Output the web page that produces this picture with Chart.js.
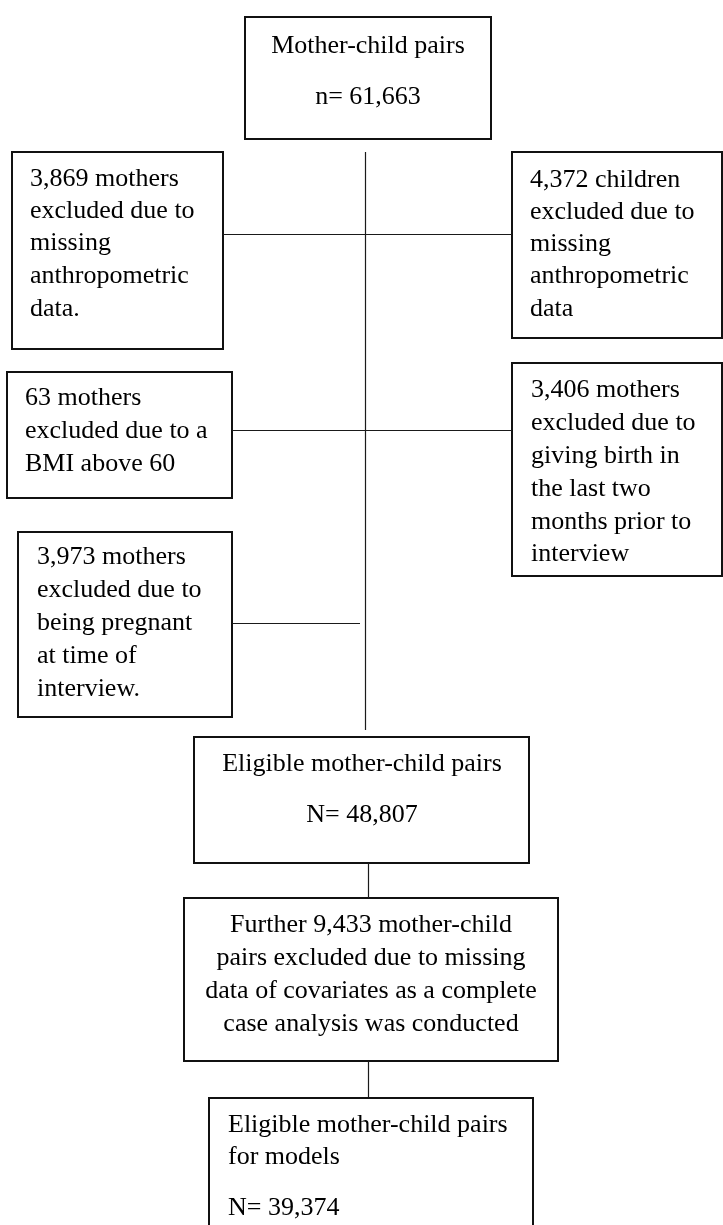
<!DOCTYPE html>
<html>
<head>
<meta charset="utf-8">
<script src="https://cdn.jsdelivr.net/npm/chart.js@4/dist/chart.umd.min.js"></script>
<style>
  html, body { margin: 0; padding: 0; background: #fff; }
  #wrap { width: 723px; height: 1225px; }
</style>
</head>
<body>
<div id="wrap"><canvas id="flow"></canvas></div>
<script>
// Node texts, one entry per box (line breaks as in the original)
const NODE_TEXT = [
  ['Mother-child pairs', 'n= 61,663'],
  ['3,869 mothers', 'excluded due to', 'missing', 'anthropometric', 'data.'],
  ['4,372 children', 'excluded due to', 'missing', 'anthropometric', 'data'],
  ['63 mothers', 'excluded due to a', 'BMI above 60'],
  ['3,406 mothers', 'excluded due to', 'giving birth in', 'the last two', 'months prior to', 'interview'],
  ['3,973 mothers', 'excluded due to', 'being pregnant', 'at time of', 'interview.'],
  ['Eligible mother-child pairs', 'N= 48,807'],
  ['Further 9,433 mother-child', 'pairs excluded due to missing', 'data of covariates as a complete', 'case analysis was conducted'],
  ['Eligible mother-child pairs', 'for models', 'N= 39,374'],
];

// Layout in diagram units (0..723 wide, 0..1225 tall): [left, top, right, bottom]
const BOX_RECT = [
  [245, 17, 491, 139],
  [12, 152, 223, 349],
  [512, 152, 722, 338],
  [7, 372, 232, 498],
  [512, 363, 722, 576],
  [18, 532, 232, 717],
  [194, 737, 529, 863],
  [184, 898, 558, 1061],
  [209, 1098, 533, 1260],
];

// Text anchor per box
const TEXT_X = [368, 30, 530, 25, 531, 37, 362, 371, 228];
const TEXT_ALIGN = ['center', 'left', 'left', 'left', 'left', 'left', 'center', 'center', 'left'];
const TEXT_BASELINES = [
  [53, 104],
  [186, 218, 250, 283, 316],
  [187, 219, 251, 283, 316],
  [405, 438, 471],
  [397, 430, 463, 496, 529, 561],
  [564, 597, 630, 663, 696],
  [771, 822],
  [932, 965, 998, 1031],
  [1132, 1164, 1215],
];

// Connector lines: [x1, y1, x2, y2]
const LINKS = [
  [365.5, 152, 365.5, 730],
  [223, 234.5, 512, 234.5],
  [232, 430.5, 512, 430.5],
  [232, 623.5, 360, 623.5],
  [368.5, 863, 368.5, 898],
  [368.5, 1061, 368.5, 1097],
];

const datasets = [];

LINKS.forEach(([x1, y1, x2, y2]) => {
  datasets.push({
    data: [{ x: x1, y: y1 }, { x: x2, y: y2 }],
    showLine: true,
    borderColor: '#1a1a1a',
    borderWidth: 1.2,
    pointRadius: 0,
    fill: false,
  });
});

BOX_RECT.forEach(([l, t, r, b]) => {
  datasets.push({
    data: [{ x: l, y: t }, { x: r, y: t }, { x: r, y: b }, { x: l, y: b }, { x: l, y: t }, { x: r, y: t }],
    showLine: true,
    borderColor: '#111',
    borderWidth: 2,
    borderJoinStyle: 'miter',
    pointRadius: 0,
    fill: false,
  });
});

// Box labels, placed through the chart scales
const textPlugin = {
  id: 'boxText',
  afterDatasetsDraw(chart) {
    const { ctx, scales } = chart;
    ctx.save();
    ctx.fillStyle = '#000';
    ctx.font = '26px "Liberation Serif", "Times New Roman", serif';
    ctx.textBaseline = 'alphabetic';
    NODE_TEXT.forEach((lines, i) => {
      ctx.textAlign = TEXT_ALIGN[i];
      const px = scales.x.getPixelForValue(TEXT_X[i]);
      lines.forEach((line, j) => {
        const py = scales.y.getPixelForValue(TEXT_BASELINES[i][j]);
        ctx.fillText(line, px, py);
      });
    });
    ctx.restore();
  },
};

new Chart(document.getElementById('flow'), {
  type: 'scatter',
  data: { datasets: datasets },
  options: {
    responsive: true,
    maintainAspectRatio: false,
    animation: false,
    layout: { padding: 0 },
    plugins: {
      legend: { display: false },
      tooltip: { enabled: false },
    },
    scales: {
      x: { type: 'linear', min: 0, max: 723, display: false },
      y: { type: 'linear', min: 0, max: 1225, reverse: true, display: false },
    },
  },
  plugins: [textPlugin],
});
</script>
</body>
</html>
